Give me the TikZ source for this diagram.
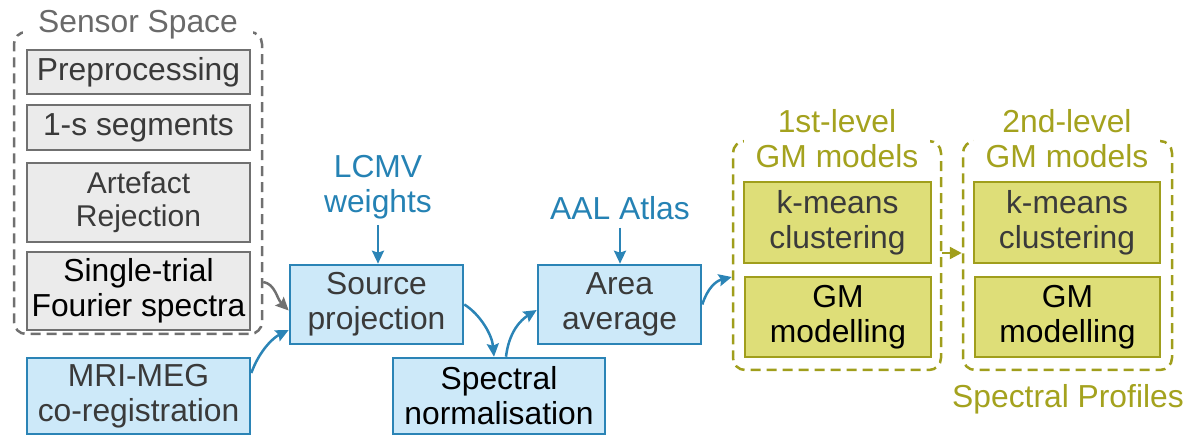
\documentclass[tikz,border=0pt]{standalone}
\usepackage{fontspec}
\setmainfont{Liberation Sans}
\usetikzlibrary{arrows.meta,calc}
\definecolor{bline}{HTML}{2B84B6}
\definecolor{bfill}{HTML}{CDE9F9}
\definecolor{btext}{HTML}{2582B4}
\definecolor{oline}{HTML}{A09E1C}
\definecolor{ofill}{HTML}{DEDE78}
\definecolor{otext}{HTML}{A4A21E}
\definecolor{gline}{HTML}{707070}
\definecolor{gfill}{HTML}{EBEBEB}
\definecolor{gtext}{HTML}{6A6A6A}
\definecolor{dtext}{HTML}{3A3A3A}
\begin{document}
\begin{tikzpicture}[x=1pt,y=-1pt,
  every node/.style={font=\fontsize{31.8}{35}\selectfont, align=center, inner sep=0pt},
  box/.style={draw, line width=2.6pt, rectangle},
  graybox/.style={box, draw=gline, fill=gfill, text=dtext},
  bluebox/.style={box, draw=bline, fill=bfill, text=dtext},
  olivebox/.style={box, draw=oline, fill=ofill, text=dtext},
  container/.style={draw, dash pattern=on 10pt off 6pt, line width=2.5pt, rounded corners=12pt, rectangle},
  titlelabel/.style={fill=white, inner xsep=12pt, inner ysep=2pt},
  conn/.style={line width=2.5pt, -{Stealth[length=13pt,width=12pt,inset=2pt]}},
]
\useasboundingbox (0,0) rectangle (1200,438);

% Sensor space
\node[container, draw=gline, minimum width=248pt, minimum height=302pt] (ss) at (138,183) {};
\node[titlelabel, text=gtext, anchor=base, inner xsep=15pt] (sstitle) at (138,33) {Sensor Space};
\node[graybox, minimum width=223pt, minimum height=44pt] (pre) at (138.5,72) {Preprocessing};
\node[graybox, minimum width=223pt, minimum height=45pt] (seg) at (138.5,127.5) {1-s segments};
\node[graybox, minimum width=223pt, minimum height=79pt, font=\fontsize{30}{33}\selectfont] (art) at (138.5,202.5) {Artefact\\Rejection};
\node[graybox, minimum width=223pt, minimum height=78pt, text=black] (stf) at (138.5,291) {Single-trial\\Fourier spectra};

% Blue pipeline
\node[bluebox, minimum width=173pt, minimum height=79pt] (sp) at (376.5,304.5) {Source\\projection};
\node[bluebox, minimum width=223pt, minimum height=76pt] (mri) at (138.5,396) {MRI-MEG\\co-registration};
\node[bluebox, minimum width=212pt, minimum height=76pt, text=black] (sn) at (499,396) {Spectral\\normalisation};
\node[bluebox, minimum width=163pt, minimum height=79pt] (aa) at (619.5,304.5) {Area\\average};
\node[text=btext] (lcmv) at (378,186.7) {LCMV\\weights};
\node[text=btext, anchor=base] (aal) at (620,220) {AAL Atlas};

% GM model containers
\node[container, draw=oline, minimum width=208pt, minimum height=229pt] (c1) at (837,255.5) {};
\node[titlelabel, text=otext] (t1) at (837,138.2) {1st-level\\GM models};
\node[olivebox, minimum width=187pt, minimum height=81pt] (km1) at (837.5,222.5) {k-means\\clustering};
\node[olivebox, minimum width=186pt, minimum height=80pt, text=black] (gm1) at (838,317) {GM\\modelling};

\node[container, draw=oline, minimum width=209pt, minimum height=229pt] (c2) at (1067.5,255.5) {};
\node[titlelabel, text=otext] (t2) at (1067,138.2) {2nd-level\\GM models};
\node[olivebox, minimum width=186pt, minimum height=81pt] (km2) at (1067,222.5) {k-means\\clustering};
\node[olivebox, minimum width=185pt, minimum height=80pt, text=black] (gm2) at (1067.5,317) {GM\\modelling};
\node[text=otext, anchor=base] (sprof) at (1068,407) {Spectral Profiles};

% Connectors
\draw[conn, draw=gline] ($(ss.east)+(0,99)$) .. controls +(12,2) and +(-12,-12) .. ($(sp.west)+(0,6)$);
\draw[conn, draw=bline] ($(mri.east)+(0,-23)$) .. controls +(8,-22) and +(-16,8) .. ($(sp.west)+(0,25.5)$);
\draw[conn, draw=bline] (sp.east) .. controls +(16,10) and +(-2,-22) .. ($(sn.north)+(-5,0)$);
\draw[conn, draw=bline] ($(sn.north)+(7,0)$) .. controls +(3,-25) and +(-16,10) .. ($(aa.west)+(0,5.5)$);
\draw[conn, draw=bline] (aa.east) .. controls +(5,-16) and +(-16,4) .. ($(c1.west)+(0,21.5)$);
\draw[conn, draw=bline, shorten <=6pt] (lcmv.south) -- (lcmv.south |- sp.north);
\draw[conn, draw=bline, shorten <=7pt] (aal.south) -- (aal.south |- aa.north);
\draw[conn, draw=oline, -{Stealth[length=12pt,width=12pt,inset=0pt]}] ($(c1.east)+(0,-2.5)$) -- ($(c2.west)+(0,-2.5)$);
\end{tikzpicture}
\end{document}
